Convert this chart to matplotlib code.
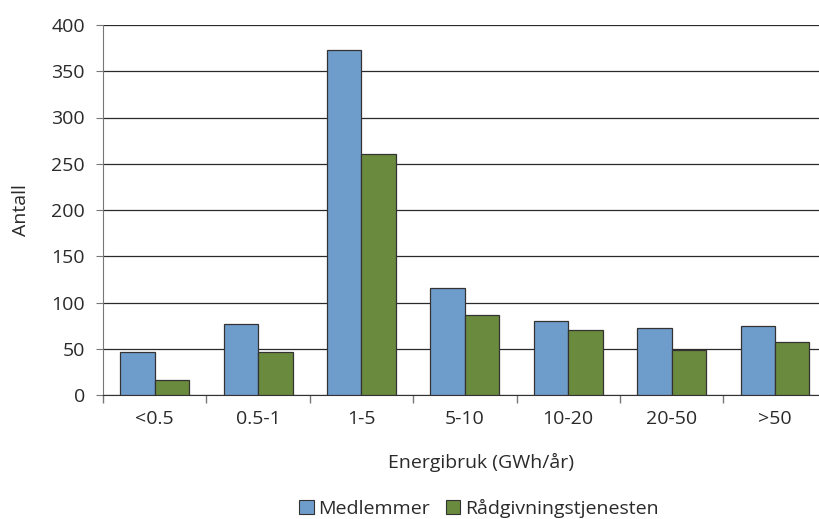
import matplotlib
matplotlib.use("Agg")
import matplotlib.pyplot as plt
import numpy as np
from matplotlib.patches import Patch

# ── Data ──────────────────────────────────────────────────────────────
categories = ["<0.5", "0.5-1", "1-5", "5-10", "10-20", "20-50", ">50"]
medlemmer = [46, 77, 373, 116, 80, 72, 75]
radgivning = [16, 46, 261, 86, 70, 49, 57]
series_names = ["Medlemmer", "Rådgivningstjenesten"]

BLUE = "#6f9dcb"
GREEN = "#6a8a3d"
TEXT = "#2a2a2a"
FS = 14

plt.rcParams["font.family"] = ["Open Sans", "DejaVu Sans"]

fig = plt.figure(figsize=(8.19, 5.19), dpi=100)
ax = fig.add_axes([103 / 819, 124 / 519, 723.7 / 819, 370 / 519])

x = np.arange(len(categories))
w = 0.333
ax.bar(x - w / 2, medlemmer, w, color=BLUE, edgecolor="#333333", linewidth=0.9, zorder=3)
ax.bar(x + w / 2, radgivning, w, color=GREEN, edgecolor="#333333", linewidth=0.9, zorder=3)

ax.set_xlim(-0.5, len(categories) - 0.5)
ax.set_ylim(0, 400)
ax.set_yticks(np.arange(0, 401, 50))
ax.yaxis.grid(True, color="#2a2a2a", linewidth=0.9, zorder=0)
ax.set_axisbelow(True)

ax.set_xticks(x)
ax.set_xticklabels(categories)
ax.set_xticks(np.arange(-0.5, len(categories)), minor=True)
ax.tick_params(axis="x", which="major", length=0, pad=11, labelsize=FS, colors=TEXT)
ax.tick_params(axis="x", which="minor", length=6, color="#777777", width=1)
ax.tick_params(axis="y", length=5, color="#777777", pad=8, labelsize=FS, colors=TEXT)

for s in ("top", "right"):
    ax.spines[s].set_visible(False)
ax.spines["left"].set_color("#777777")
ax.spines["bottom"].set_color("#333333")

ax.set_ylabel("Antall", fontsize=FS, color=TEXT)
ax.yaxis.set_label_coords(-0.101, 0.5)
ax.set_xlabel("Energibruk (GWh/år)", fontsize=FS, color=TEXT)
ax.xaxis.set_label_coords((481 - 103) / 723.7, -0.157)

handles = [Patch(facecolor=BLUE, edgecolor="#333333", linewidth=0.8, label=series_names[0]),
           Patch(facecolor=GREEN, edgecolor="#333333", linewidth=0.8, label=series_names[1])]
fig.legend(handles=handles, loc="center", bbox_to_anchor=(479 / 819, 1 - 508 / 519),
           ncol=2, frameon=False, fontsize=FS, handlelength=0.75, handleheight=0.75,
           handletextpad=0.25, columnspacing=0.8, labelcolor=TEXT)

fig.savefig("out.png", dpi=100)
